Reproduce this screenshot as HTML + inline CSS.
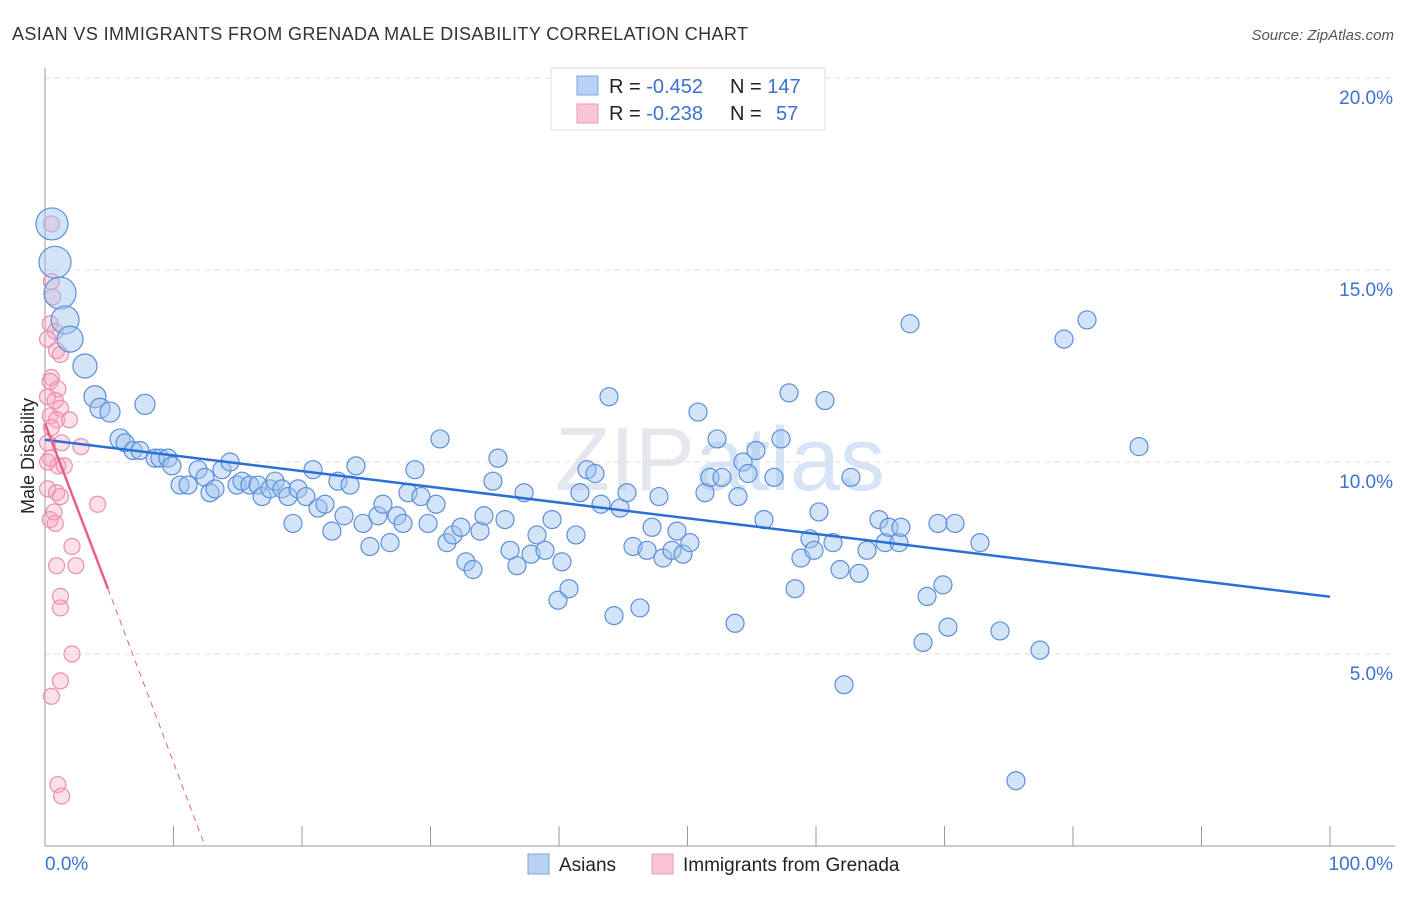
<!DOCTYPE html>
<html><head><meta charset="utf-8"><style>
body{margin:0;background:#fff;font-family:"Liberation Sans",sans-serif}
svg text{font-family:"Liberation Sans",sans-serif}
</style></head><body>
<svg id="c" width="1406" height="892" xmlns="http://www.w3.org/2000/svg">
<text x="12" y="40" font-size="18" fill="#333" textLength="736">ASIAN VS IMMIGRANTS FROM GRENADA MALE DISABILITY CORRELATION CHART</text>
<text x="1394" y="40" font-size="15" fill="#555" text-anchor="end" font-style="italic">Source: ZipAtlas.com</text>
<text x="720" y="490" font-size="90" fill="#e4e8ee" text-anchor="middle" font-family="Liberation Serif">ZIP<tspan fill="#d6e4f5" font-family="Liberation Sans">atlas</tspan></text>
<text transform="translate(34,456) rotate(-90)" font-size="18" fill="#222" text-anchor="middle">Male Disability</text>
<g id="grid"></g><g id="pink"></g><g id="blue"></g><g id="lines"></g>
<g>
<rect x="551" y="68" width="274" height="62" fill="#fff" stroke="#ddd"/>
<rect x="577" y="76" width="21" height="19" fill="#b8d2f5" stroke="#7aa5e0"/>
<rect x="577" y="104" width="21" height="19" fill="#f9c5d5" stroke="#ee9ab5"/>
<text x="609" y="93" font-size="20" fill="#222">R = <tspan fill="#3a72d0">-0.452</tspan><tspan x="730">N = </tspan><tspan fill="#3a72d0">147</tspan></text>
<text x="609" y="120" font-size="20" fill="#222">R = <tspan fill="#3a72d0">-0.238</tspan><tspan x="730">N = </tspan><tspan fill="#3a72d0" x="776">57</tspan></text>
</g>
<g>
<rect x="528" y="854" width="21" height="20" fill="#b8d2f5" stroke="#7aa5e0"/>
<text x="559" y="871" font-size="19" fill="#222">Asians</text>
<rect x="652" y="854" width="21" height="20" fill="#f9c5d5" stroke="#ee9ab5"/>
<text x="683" y="871" font-size="19" fill="#222">Immigrants from Grenada</text>
</g>
<text x="45" y="870" font-size="19" fill="#3a72d0">0.0%</text>
<text x="1393" y="870" font-size="19" fill="#3a72d0" text-anchor="end">100.0%</text>
</svg>
<script>
const yTicks=[5,10,15,20];
const yTickLabels=["5.0%","10.0%","15.0%","20.0%"];
const blueX=[0.54,0.78,1.17,1.56,1.95,3.11,3.89,4.28,5.06,7.78,5.84,6.23,6.85,7.39,8.56,8.95,9.57,9.88,10.51,11.13,11.91,12.45,12.84,13.23,13.77,14.40,14.94,15.33,15.95,16.58,16.89,17.51,17.90,18.44,18.91,19.30,19.69,20.31,20.86,21.25,21.79,22.33,22.80,23.27,23.74,24.20,24.75,25.29,25.91,26.30,26.85,27.39,27.86,28.25,28.79,29.26,29.81,30.43,30.74,31.28,31.75,32.37,32.76,33.31,33.85,34.16,34.86,35.25,35.80,36.19,36.73,37.28,37.82,38.29,38.91,39.46,39.92,40.23,40.78,41.32,41.63,42.18,42.80,43.27,43.89,44.28,44.75,45.29,45.76,46.30,46.85,47.24,47.78,48.09,48.79,49.18,49.65,50.19,50.82,51.36,51.75,52.30,52.68,53.70,53.93,54.32,54.71,55.33,55.95,56.73,57.28,57.90,58.37,58.83,59.53,59.84,60.23,60.70,61.32,61.87,62.18,62.72,63.35,63.97,64.90,65.37,65.68,66.46,66.61,67.32,68.33,68.64,69.49,69.88,70.27,70.82,72.76,74.32,75.56,77.43,79.30,81.09,85.14];
const blueY=[16.2,15.2,14.4,13.7,13.2,12.5,11.7,11.4,11.3,11.5,10.6,10.5,10.3,10.3,10.1,10.1,10.1,9.9,9.4,9.4,9.8,9.6,9.2,9.3,9.8,10.0,9.4,9.5,9.4,9.4,9.1,9.3,9.5,9.3,9.1,8.4,9.3,9.1,9.8,8.8,8.9,8.2,9.5,8.6,9.4,9.9,8.4,7.8,8.6,8.9,7.9,8.6,8.4,9.2,9.8,9.1,8.4,8.9,10.6,7.9,8.1,8.3,7.4,7.2,8.2,8.6,9.5,10.1,8.5,7.7,7.3,9.2,7.6,8.1,7.7,8.5,6.4,7.4,6.7,8.1,9.2,9.8,9.7,8.9,11.7,6.0,8.8,9.2,7.8,6.2,7.7,8.3,9.1,7.5,7.7,8.2,7.6,7.9,11.3,9.2,9.6,10.6,9.6,5.8,9.1,10.0,9.7,10.3,8.5,9.6,10.6,11.8,6.7,7.5,8.0,7.7,8.7,11.6,7.9,7.2,4.2,9.6,7.1,7.7,8.5,7.9,8.3,7.9,8.3,13.6,5.3,6.5,8.4,6.8,5.7,8.4,7.9,5.6,1.7,5.1,13.2,13.7,10.4];
const blueR=[16,16,16,14,13,12,11,10,10,10,10,9,9,9,9,9,9,9,9,9,9,9,9,9,9,9,9,9,9,9,9,9,9,9,9,9,9,9,9,9,9,9,9,9,9,9,9,9,9,9,9,9,9,9,9,9,9,9,9,9,9,9,9,9,9,9,9,9,9,9,9,9,9,9,9,9,9,9,9,9,9,9,9,9,9,9,9,9,9,9,9,9,9,9,9,9,9,9,9,9,9,9,9,9,9,9,9,9,9,9,9,9,9,9,9,9,9,9,9,9,9,9,9,9,9,9,9,9,9,9,9,9,9,9,9,9,9,9,9,9,9,9,9,9,9,9,9];
const pinkX=[0.5,0.5,0.6,0.4,0.8,0.2,0.9,1.2,0.5,0.4,1.0,0.2,0.8,1.2,0.4,0.9,1.9,0.5,0.2,1.3,2.8,0.4,1.0,1.5,0.2,0.9,1.2,4.1,0.4,0.8,2.1,0.9,2.4,1.2,1.2,2.1,1.2,0.5,1.0,1.3,0.2,0.7];
const pinkY=[16.2,14.7,14.3,13.6,13.4,13.2,12.9,12.8,12.2,12.1,11.9,11.7,11.6,11.4,11.2,11.1,11.1,10.9,10.5,10.5,10.4,10.1,9.9,9.9,9.3,9.2,9.1,8.9,8.5,8.4,7.8,7.3,7.3,6.5,6.2,5.0,4.3,3.9,1.6,1.3,10.0,8.7];
const blueTrend=[[0,10.58],[100,6.49]];
const pinkTrend=[[0,11.0],[4.9,6.7]];
const pinkDash=[[4.9,6.7],[12.45,0]];
const X0=45,X1=1330,Y0=846,PX=(X1-X0)/100,PY=38.4;
const sx=v=>X0+v*PX, sy=v=>Y0-v*PY;
const NS="http://www.w3.org/2000/svg";
function mk(t,a,p){const e=document.createElementNS(NS,t);for(const k in a)e.setAttribute(k,a[k]);p.appendChild(e);return e;}
const grid=document.getElementById('grid');
yTicks.forEach((t,i)=>{
 const l=mk('line',{x1:X0,x2:1395,y1:sy(t),y2:sy(t),stroke:'#ddd','stroke-dasharray':'5,5'},grid);
 
 
 const tx=mk('text',{x:1393,y:sy(t)+26,'font-size':19,fill:'#3a72d0','text-anchor':'end'},grid);
 tx.textContent=yTickLabels[i];
 
 
});
const ax=mk('line',{x1:X0,x2:X0,y1:68,y2:Y0,stroke:'#999'},grid);


const bx=mk('line',{x1:X0,x2:1395,y1:Y0,y2:Y0,stroke:'#999'},grid);


for(let k=0;k<=10;k++){const t=mk('line',{x1:sx(k*10),x2:sx(k*10),y1:826,y2:Y0,stroke:'#999'},grid);
 
 }
const pg=document.getElementById('pink');
pinkX.forEach((x,i)=>{const c=mk('circle',{cx:sx(x),cy:sy(pinkY[i]),r:8,fill:'rgba(245,165,190,0.35)',stroke:'#eb8fae','stroke-width':1.2},pg);
 
 });
const bg=document.getElementById('blue');
blueX.forEach((x,i)=>{const c=mk('circle',{cx:sx(x),cy:sy(blueY[i]),r:blueR[i],fill:'rgba(160,195,240,0.45)',stroke:'#5b8fd9','stroke-width':1.2},bg);
 
 });
const lg=document.getElementById('lines');
const l1=mk('line',{x1:sx(blueTrend[0][0]),y1:sy(blueTrend[0][1]),x2:sx(blueTrend[1][0]),y2:sy(blueTrend[1][1]),stroke:'#2b6fd6','stroke-width':2.5},lg);


const l2=mk('line',{x1:sx(pinkTrend[0][0]),y1:sy(pinkTrend[0][1]),x2:sx(pinkTrend[1][0]),y2:sy(pinkTrend[1][1]),stroke:'#e8608a','stroke-width':2.5},lg);


const l3=mk('line',{x1:sx(pinkDash[0][0]),y1:sy(pinkDash[0][1]),x2:sx(pinkDash[1][0]),y2:sy(pinkDash[1][1]),stroke:'#e8608a','stroke-width':1,'stroke-dasharray':'6,5'},lg);


</script>
</body></html>
